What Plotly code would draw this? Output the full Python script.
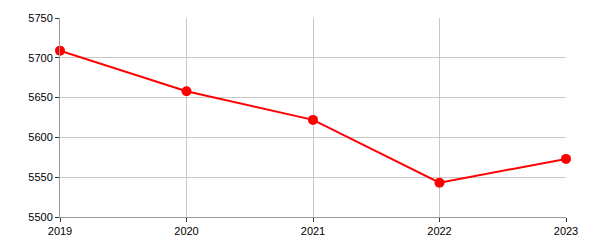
import plotly.graph_objects as go

years = ["2019", "2020", "2021", "2022", "2023"]
values = [5709, 5658, 5622, 5543, 5573]
y_ticks = [5500, 5550, 5600, 5650, 5700, 5750]

fig = go.Figure(go.Scatter(
    x=years, y=values, mode="lines+markers",
    line=dict(color="#ff0000", width=2),
    marker=dict(color="#ff0000", size=10),
    cliponaxis=False,
))
fig.update_layout(
    width=600, height=250,
    margin=dict(l=60, r=34, t=16, b=33),
    paper_bgcolor="white", plot_bgcolor="white",
    font=dict(family="Liberation Sans, Arial, sans-serif", size=11, color="#000"),
    showlegend=False,
)
fig.update_xaxes(
    type="category", range=[0, 4], showgrid=True, gridcolor="#c8c8c8", gridwidth=1,
    showline=True, linecolor="#999", linewidth=1, ticks="outside", ticklen=4,
    tickcolor="#333", zeroline=False,
)
fig.update_yaxes(
    range=[5500, 5750], tickvals=y_ticks, showgrid=True, gridcolor="#c8c8c8",
    showline=True, linecolor="#999", linewidth=1, ticks="outside", ticklen=4,
    tickcolor="#333", zeroline=False,
)
fig.write_html("out.html")
